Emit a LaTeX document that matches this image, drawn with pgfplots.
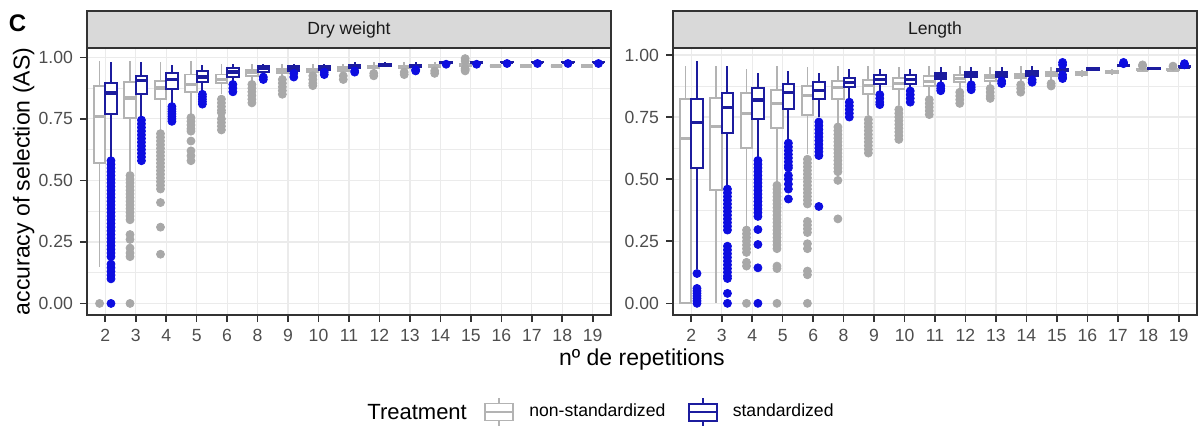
\documentclass[border=0pt]{standalone}
\usepackage{pgfplots}
\pgfplotsset{compat=1.18}
\usepgfplotslibrary{statistics}
\usepackage{fontspec}
\setmainfont{Liberation Sans}

\definecolor{gbox}{HTML}{B3B3B3}
\definecolor{gpt}{HTML}{A8A8A8}
\definecolor{bbox}{HTML}{1C1C9E}
\definecolor{bpt}{HTML}{0D0DE0}
\definecolor{gridc}{HTML}{EBEBEB}
\definecolor{g20}{HTML}{333333}
\definecolor{g30}{HTML}{4D4D4D}
\definecolor{g85}{HTML}{D9D9D9}
\definecolor{g10}{HTML}{1A1A1A}

\pgfplotsset{
  panel/.style={
    scale only axis, width=262pt, height=133.5pt, anchor=south west,
    xmin=-0.6, xmax=16.6,
    xtick={0,...,16},
    xticklabels={2,3,4,5,6,8,9,10,11,12,13,14,15,16,17,18,19},
    ytick={0,0.25,0.5,0.75,1},
    yticklabels={0.00,0.25,0.50,0.75,1.00},
    minor ytick={0.125,0.375,0.625,0.875},
    grid=both,
    major grid style={draw=gridc, line width=0.6pt},
    minor grid style={draw=gridc, line width=0.3pt},
    axis line style={draw=g20, line width=0.8pt},
    major tick style={draw=g20, line width=0.8pt},
    tick align=outside, major tick length=3.5pt, minor tick length=0pt,
    xtick pos=left, ytick pos=left,
    tick label style={font=\fontsize{8.8}{10}\selectfont, text=g30},
  },
  gb/.style={forget plot, draw=gbox, line width=0.9pt, fill=white, solid},
  bb/.style={forget plot, draw=bbox, line width=1pt, fill=white, solid},
  go/.style={forget plot, only marks, mark=*, mark size=2pt, color=gpt},
  bo/.style={forget plot, only marks, mark=*, mark size=2pt, color=bpt},
}
% box: #1 style, #2 position, #3 lw, #4 q1, #5 median, #6 q3, #7 uw
\newcommand{\bx}[7]{\addplot[#1, boxplot prepared={draw direction=y, draw position=#2, box extend=0.375, whisker extend=0, every median/.style={line width=1.7pt}, lower whisker=#3, lower quartile=#4, median=#5, upper quartile=#6, upper whisker=#7}] coordinates {};}

\begin{document}
\begin{tikzpicture}
\useasboundingbox (0,0) rectangle (599.5pt,212.5pt);

% ================= Dry weight =================
\begin{axis}[panel, at={(43.5pt,55pt)}, ymin=-0.047, ymax=1.038, name=L,
  ylabel={accuracy of selection (AS)},
  ylabel style={at={(axis description cs:-0.121,0.5)}, anchor=center, font=\fontsize{11.5}{13}\selectfont, text=black},
  xlabel={nº de repetitions},
  xlabel style={at={(axis description cs:1.059,-0.1685)}, anchor=center, font=\fontsize{11.5}{13}\selectfont, text=black},
  legend style={at={(axis description cs:0.7576,-0.3633)}, anchor=west, draw=none, fill=none,
    inner sep=0pt, outer sep=0pt, legend columns=-1, font=\fontsize{8.8}{10}\selectfont,
    nodes={inner sep=0pt},
    /tikz/every odd column/.append style={column sep=7.5pt},
    /tikz/every even column/.append style={column sep=11pt}},
]
\addlegendimage{legend image code/.code={
  \draw[gbox, line width=0.9pt, fill=white] (0pt,-4.25pt) rectangle (14pt,4.25pt);
  \draw[gbox, line width=1.2pt] (0pt,0pt) -- (14pt,0pt);
  \draw[gbox, line width=0.9pt] (7pt,4.25pt) -- (7pt,7pt) (7pt,-4.25pt) -- (7pt,-7pt);}}
\addlegendentry{non-standardized}
\addlegendimage{legend image code/.code={
  \draw[bbox, line width=1pt, fill=white] (0pt,-4.25pt) rectangle (14pt,4.25pt);
  \draw[bbox, line width=1.2pt] (0pt,0pt) -- (14pt,0pt);
  \draw[bbox, line width=1pt] (7pt,4.25pt) -- (7pt,7pt) (7pt,-4.25pt) -- (7pt,-7pt);}}
\addlegendentry{standardized}

% outliers, non-standardized
\addplot[go] coordinates {(-0.1875,0.0)
 (0.8125,0.52)(0.8125,0.505)(0.8125,0.49)(0.8125,0.475)(0.8125,0.46)(0.8125,0.445)(0.8125,0.43)(0.8125,0.415)(0.8125,0.40)(0.8125,0.385)(0.8125,0.37)(0.8125,0.355)(0.8125,0.34)(0.8125,0.28)(0.8125,0.26)(0.8125,0.225)(0.8125,0.205)(0.8125,0.19)(0.8125,0.0)
 (1.8125,0.69)(1.8125,0.675)(1.8125,0.66)(1.8125,0.645)(1.8125,0.63)(1.8125,0.615)(1.8125,0.60)(1.8125,0.585)(1.8125,0.57)(1.8125,0.555)(1.8125,0.54)(1.8125,0.525)(1.8125,0.51)(1.8125,0.495)(1.8125,0.48)(1.8125,0.465)(1.8125,0.41)(1.8125,0.31)(1.8125,0.20)
 (2.8125,0.755)(2.8125,0.74)(2.8125,0.725)(2.8125,0.71)(2.8125,0.70)(2.8125,0.66)(2.8125,0.62)(2.8125,0.60)(2.8125,0.58)
 (3.8125,0.83)(3.8125,0.815)(3.8125,0.80)(3.8125,0.785)(3.8125,0.775)(3.8125,0.75)(3.8125,0.735)(3.8125,0.72)(3.8125,0.705)
 (4.8125,0.89)(4.8125,0.875)(4.8125,0.86)(4.8125,0.845)(4.8125,0.83)(4.8125,0.815)
 (5.8125,0.91)(5.8125,0.895)(5.8125,0.88)(5.8125,0.865)(5.8125,0.85)
 (6.8125,0.925)(6.8125,0.91)(6.8125,0.895)(6.8125,0.885)
 (7.8125,0.925)(7.8125,0.91)
 (8.8125,0.935)(8.8125,0.925)
 (9.8125,0.94)(9.8125,0.93)
 (10.8125,0.945)(10.8125,0.935)
 (11.8125,0.995)(11.8125,0.985)(11.8125,0.955)(11.8125,0.95)(11.8125,0.945)};
% outliers, standardized
\addplot[bo] coordinates {
 (0.1875,0.58)(0.1875,0.565)(0.1875,0.55)(0.1875,0.535)(0.1875,0.52)(0.1875,0.505)(0.1875,0.49)(0.1875,0.475)(0.1875,0.46)(0.1875,0.445)(0.1875,0.43)(0.1875,0.415)(0.1875,0.40)(0.1875,0.385)(0.1875,0.37)(0.1875,0.355)(0.1875,0.34)(0.1875,0.325)(0.1875,0.31)(0.1875,0.295)(0.1875,0.28)(0.1875,0.265)(0.1875,0.25)(0.1875,0.235)(0.1875,0.22)(0.1875,0.205)(0.1875,0.19)(0.1875,0.16)(0.1875,0.145)(0.1875,0.13)(0.1875,0.115)(0.1875,0.10)(0.1875,0.0)
 (1.1875,0.745)(1.1875,0.73)(1.1875,0.715)(1.1875,0.70)(1.1875,0.685)(1.1875,0.67)(1.1875,0.655)(1.1875,0.64)(1.1875,0.625)(1.1875,0.61)(1.1875,0.595)(1.1875,0.58)
 (2.1875,0.80)(2.1875,0.79)(2.1875,0.78)(2.1875,0.77)(2.1875,0.76)(2.1875,0.75)(2.1875,0.74)
 (3.1875,0.85)(3.1875,0.84)(3.1875,0.83)(3.1875,0.82)(3.1875,0.81)
 (4.1875,0.89)(4.1875,0.875)(4.1875,0.86)
 (5.1875,0.92)(5.1875,0.91)
 (6.1875,0.935)(6.1875,0.92)
 (7.1875,0.94)(7.1875,0.93)
 (8.1875,0.945)(8.1875,0.94)
 (10.1875,0.95)(10.1875,0.945)
 (11.1875,0.972)(12.1875,0.972)(13.1875,0.975)(14.1875,0.975)(15.1875,0.975)(16.1875,0.975)};
% boxes, non-standardized
\bx{gb}{-0.1875}{0.15}{0.57}{0.76}{0.885}{0.985}
\bx{gb}{0.8125}{0.54}{0.755}{0.835}{0.90}{0.985}
\bx{gb}{1.8125}{0.70}{0.83}{0.875}{0.905}{0.98}
\bx{gb}{2.8125}{0.77}{0.86}{0.89}{0.93}{0.985}
\bx{gb}{3.8125}{0.85}{0.895}{0.91}{0.93}{0.975}
\bx{gb}{4.8125}{0.90}{0.925}{0.94}{0.95}{0.975}
\bx{gb}{5.8125}{0.92}{0.935}{0.945}{0.955}{0.975}
\bx{gb}{6.8125}{0.935}{0.94}{0.95}{0.955}{0.975}
\bx{gb}{7.8125}{0.935}{0.945}{0.95}{0.96}{0.975}
\bx{gb}{8.8125}{0.945}{0.955}{0.96}{0.965}{0.98}
\bx{gb}{9.8125}{0.95}{0.955}{0.96}{0.965}{0.98}
\bx{gb}{10.8125}{0.955}{0.96}{0.965}{0.97}{0.98}
\bx{gb}{11.8125}{0.96}{0.965}{0.97}{0.975}{0.98}
\bx{gb}{12.8125}{0.965}{0.965}{0.965}{0.965}{0.965}
\bx{gb}{13.8125}{0.965}{0.965}{0.965}{0.965}{0.965}
\bx{gb}{14.8125}{0.965}{0.965}{0.965}{0.965}{0.965}
\bx{gb}{15.8125}{0.965}{0.965}{0.965}{0.965}{0.965}
% boxes, standardized
\bx{bb}{0.1875}{0.59}{0.77}{0.855}{0.895}{0.98}
\bx{bb}{1.1875}{0.76}{0.85}{0.905}{0.925}{0.98}
\bx{bb}{2.1875}{0.81}{0.87}{0.91}{0.935}{0.97}
\bx{bb}{3.1875}{0.86}{0.90}{0.92}{0.945}{0.97}
\bx{bb}{4.1875}{0.90}{0.92}{0.94}{0.955}{0.975}
\bx{bb}{5.1875}{0.93}{0.94}{0.955}{0.965}{0.975}
\bx{bb}{6.1875}{0.94}{0.945}{0.955}{0.965}{0.975}
\bx{bb}{7.1875}{0.945}{0.95}{0.96}{0.965}{0.975}
\bx{bb}{8.1875}{0.95}{0.955}{0.965}{0.97}{0.98}
\bx{bb}{9.1875}{0.96}{0.965}{0.968}{0.972}{0.98}
\bx{bb}{10.1875}{0.955}{0.96}{0.965}{0.97}{0.98}
\bx{bb}{11.1875}{0.975}{0.978}{0.98}{0.983}{0.99}
\bx{bb}{12.1875}{0.975}{0.978}{0.98}{0.983}{0.99}
\bx{bb}{13.1875}{0.978}{0.98}{0.98}{0.982}{0.99}
\bx{bb}{14.1875}{0.978}{0.98}{0.98}{0.982}{0.99}
\bx{bb}{15.1875}{0.978}{0.98}{0.98}{0.982}{0.99}
\bx{bb}{16.1875}{0.978}{0.98}{0.98}{0.982}{0.99}
\end{axis}

% ================= Length =================
\begin{axis}[panel, at={(336.5pt,55pt)}, ymin=-0.047, ymax=1.028, name=R]
\addplot[go] coordinates {
 (1.8125,0.295)(1.8125,0.28)(1.8125,0.265)(1.8125,0.25)(1.8125,0.235)(1.8125,0.22)(1.8125,0.205)(1.8125,0.165)(1.8125,0.15)(1.8125,0.0)
 (2.8125,0.475)(2.8125,0.46)(2.8125,0.445)(2.8125,0.43)(2.8125,0.415)(2.8125,0.40)(2.8125,0.385)(2.8125,0.37)(2.8125,0.355)(2.8125,0.34)(2.8125,0.325)(2.8125,0.31)(2.8125,0.295)(2.8125,0.28)(2.8125,0.265)(2.8125,0.25)(2.8125,0.235)(2.8125,0.22)(2.8125,0.15)(2.8125,0.14)(2.8125,0.0)
 (3.8125,0.58)(3.8125,0.565)(3.8125,0.55)(3.8125,0.535)(3.8125,0.52)(3.8125,0.505)(3.8125,0.49)(3.8125,0.475)(3.8125,0.46)(3.8125,0.445)(3.8125,0.43)(3.8125,0.415)(3.8125,0.40)(3.8125,0.33)(3.8125,0.315)(3.8125,0.30)(3.8125,0.285)(3.8125,0.24)(3.8125,0.22)(3.8125,0.13)(3.8125,0.115)(3.8125,0.0)
 (4.8125,0.71)(4.8125,0.695)(4.8125,0.68)(4.8125,0.665)(4.8125,0.65)(4.8125,0.635)(4.8125,0.62)(4.8125,0.605)(4.8125,0.59)(4.8125,0.575)(4.8125,0.56)(4.8125,0.545)(4.8125,0.53)(4.8125,0.495)(4.8125,0.34)
 (5.8125,0.74)(5.8125,0.725)(5.8125,0.71)(5.8125,0.695)(5.8125,0.68)(5.8125,0.665)(5.8125,0.65)(5.8125,0.635)(5.8125,0.62)(5.8125,0.605)
 (6.8125,0.78)(6.8125,0.765)(6.8125,0.75)(6.8125,0.735)(6.8125,0.72)(6.8125,0.705)(6.8125,0.69)(6.8125,0.675)(6.8125,0.66)
 (7.8125,0.82)(7.8125,0.805)(7.8125,0.79)(7.8125,0.775)(7.8125,0.76)
 (8.8125,0.85)(8.8125,0.835)(8.8125,0.82)(8.8125,0.805)
 (9.8125,0.865)(9.8125,0.85)(9.8125,0.835)(9.8125,0.825)
 (10.8125,0.88)(10.8125,0.865)(10.8125,0.85)
 (11.8125,0.885)(11.8125,0.875)
 (14.8125,0.955)(14.8125,0.96)
 (15.8125,0.955)};
\addplot[bo] coordinates {
 (0.1875,0.12)(0.1875,0.06)(0.1875,0.05)(0.1875,0.04)(0.1875,0.03)(0.1875,0.02)(0.1875,0.01)(0.1875,0.0)
 (1.1875,0.46)(1.1875,0.445)(1.1875,0.43)(1.1875,0.415)(1.1875,0.40)(1.1875,0.385)(1.1875,0.37)(1.1875,0.355)(1.1875,0.34)(1.1875,0.325)(1.1875,0.31)(1.1875,0.295)(1.1875,0.23)(1.1875,0.215)(1.1875,0.20)(1.1875,0.185)(1.1875,0.17)(1.1875,0.155)(1.1875,0.14)(1.1875,0.125)(1.1875,0.11)(1.1875,0.10)(1.1875,0.04)(1.1875,0.0)
 (2.1875,0.575)(2.1875,0.56)(2.1875,0.545)(2.1875,0.53)(2.1875,0.515)(2.1875,0.50)(2.1875,0.485)(2.1875,0.47)(2.1875,0.455)(2.1875,0.44)(2.1875,0.425)(2.1875,0.41)(2.1875,0.395)(2.1875,0.38)(2.1875,0.365)(2.1875,0.35)(2.1875,0.297)(2.1875,0.237)(2.1875,0.143)(2.1875,0.0)
 (3.1875,0.645)(3.1875,0.63)(3.1875,0.615)(3.1875,0.60)(3.1875,0.585)(3.1875,0.57)(3.1875,0.555)(3.1875,0.545)(3.1875,0.515)(3.1875,0.50)(3.1875,0.48)(3.1875,0.46)(3.1875,0.42)
 (4.1875,0.73)(4.1875,0.715)(4.1875,0.70)(4.1875,0.685)(4.1875,0.67)(4.1875,0.655)(4.1875,0.64)(4.1875,0.625)(4.1875,0.61)(4.1875,0.595)(4.1875,0.39)
 (5.1875,0.81)(5.1875,0.795)(5.1875,0.78)(5.1875,0.765)(5.1875,0.75)
 (6.1875,0.84)(6.1875,0.825)(6.1875,0.81)(6.1875,0.80)
 (7.1875,0.855)(7.1875,0.84)(7.1875,0.825)(7.1875,0.81)
 (8.1875,0.876)(8.1875,0.865)(8.1875,0.856)
 (9.1875,0.88)(9.1875,0.87)(9.1875,0.86)
 (10.1875,0.895)(10.1875,0.885)
 (11.1875,0.90)(11.1875,0.89)
 (12.1875,0.97)(12.1875,0.96)(12.1875,0.92)(12.1875,0.91)(12.1875,0.905)
 (14.1875,0.97)(14.1875,0.965)
 (16.1875,0.965)(16.1875,0.96)};
\bx{gb}{-0.1875}{0.0}{0.0}{0.663}{0.822}{0.955}
\bx{gb}{0.8125}{0.0}{0.455}{0.711}{0.826}{0.956}
\bx{gb}{1.8125}{0.31}{0.626}{0.765}{0.846}{0.943}
\bx{gb}{2.8125}{0.49}{0.706}{0.805}{0.858}{0.956}
\bx{gb}{3.8125}{0.60}{0.759}{0.836}{0.876}{0.95}
\bx{gb}{4.8125}{0.72}{0.822}{0.869}{0.896}{0.956}
\bx{gb}{5.8125}{0.76}{0.842}{0.876}{0.898}{0.956}
\bx{gb}{6.8125}{0.80}{0.862}{0.885}{0.906}{0.95}
\bx{gb}{7.8125}{0.83}{0.876}{0.893}{0.916}{0.956}
\bx{gb}{8.8125}{0.86}{0.89}{0.905}{0.92}{0.955}
\bx{gb}{9.8125}{0.87}{0.895}{0.91}{0.92}{0.95}
\bx{gb}{10.8125}{0.89}{0.905}{0.915}{0.925}{0.955}
\bx{gb}{11.8125}{0.90}{0.915}{0.925}{0.93}{0.95}
\bx{gb}{12.8125}{0.91}{0.92}{0.925}{0.93}{0.94}
\bx{gb}{13.8125}{0.92}{0.925}{0.93}{0.935}{0.945}
\bx{gb}{14.8125}{0.935}{0.94}{0.94}{0.943}{0.95}
\bx{gb}{15.8125}{0.935}{0.94}{0.94}{0.943}{0.95}
\bx{bb}{0.1875}{0.14}{0.545}{0.729}{0.822}{0.976}
\bx{bb}{1.1875}{0.47}{0.684}{0.789}{0.845}{0.956}
\bx{bb}{2.1875}{0.58}{0.742}{0.818}{0.866}{0.929}
\bx{bb}{3.1875}{0.655}{0.782}{0.849}{0.882}{0.936}
\bx{bb}{4.1875}{0.75}{0.822}{0.858}{0.893}{0.929}
\bx{bb}{5.1875}{0.82}{0.869}{0.889}{0.909}{0.943}
\bx{bb}{6.1875}{0.85}{0.882}{0.902}{0.918}{0.943}
\bx{bb}{7.1875}{0.86}{0.885}{0.902}{0.918}{0.943}
\bx{bb}{8.1875}{0.88}{0.902}{0.916}{0.926}{0.95}
\bx{bb}{9.1875}{0.89}{0.91}{0.92}{0.93}{0.95}
\bx{bb}{10.1875}{0.90}{0.912}{0.92}{0.93}{0.95}
\bx{bb}{11.1875}{0.905}{0.915}{0.925}{0.935}{0.955}
\bx{bb}{12.1875}{0.93}{0.935}{0.94}{0.945}{0.95}
\bx{bb}{13.1875}{0.935}{0.94}{0.943}{0.946}{0.95}
\bx{bb}{14.1875}{0.955}{0.955}{0.958}{0.96}{0.965}
\bx{bb}{15.1875}{0.94}{0.945}{0.945}{0.947}{0.95}
\bx{bb}{16.1875}{0.95}{0.95}{0.952}{0.955}{0.96}
\end{axis}

% strips
\draw[fill=g85, draw=g20, line width=0.8pt] (L.north west) rectangle ([yshift=18.5pt]L.north east);
\node[font=\fontsize{8.8}{10}\selectfont, text=g10] at ([yshift=9.25pt]L.north) {Dry weight};
\draw[fill=g85, draw=g20, line width=0.8pt] (R.north west) rectangle ([yshift=18.5pt]R.north east);
\node[font=\fontsize{8.8}{10}\selectfont, text=g10] at ([yshift=9.25pt]R.north) {Length};

% panel tag and legend title
\node[font=\fontsize{12}{14}\selectfont\bfseries] at (8.75pt,200.75pt) {C};
\node[font=\fontsize{11}{13}\selectfont, anchor=west, inner sep=0pt] at (183.5pt,6.5pt) {Treatment};
\end{tikzpicture}
\end{document}
